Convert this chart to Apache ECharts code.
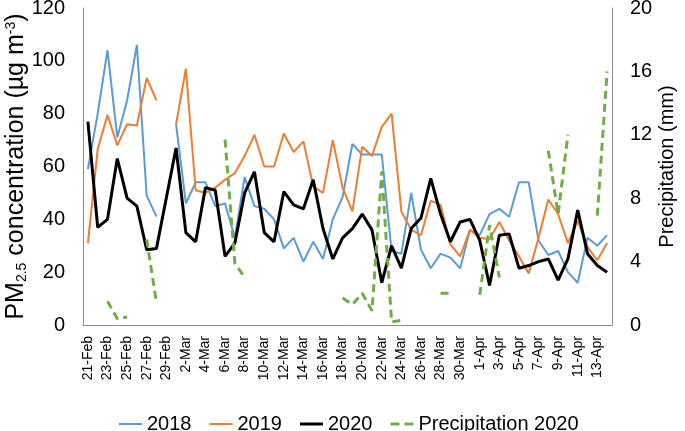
<!DOCTYPE html>
<html><head><meta charset="utf-8">
<script src="https://cdn.jsdelivr.net/npm/echarts@6/dist/echarts.min.js"></script>
<style>html,body{margin:0;padding:0;background:#fff}#c{width:685px;height:431px}</style>
</head><body><div id="c"></div>
<script>
const dates = ["21-Feb","22-Feb","23-Feb","24-Feb","25-Feb","26-Feb","27-Feb","28-Feb","29-Feb",
"1-Mar","2-Mar","3-Mar","4-Mar","5-Mar","6-Mar","7-Mar","8-Mar","9-Mar","10-Mar","11-Mar","12-Mar","13-Mar","14-Mar","15-Mar","16-Mar","17-Mar","18-Mar","19-Mar","20-Mar","21-Mar","22-Mar","23-Mar","24-Mar","25-Mar","26-Mar","27-Mar","28-Mar","29-Mar","30-Mar","31-Mar",
"1-Apr","2-Apr","3-Apr","4-Apr","5-Apr","6-Apr","7-Apr","8-Apr","9-Apr","10-Apr","11-Apr","12-Apr","13-Apr","14-Apr"];
const pm2018 = [59,80,104,71,85,106,49,41,null,
76,46,54,54,45,46,33,56,45,44,40,29,33,24,31.5,25,40,48.5,68.5,64.5,64.5,64.5,28,27,50,28.5,21.5,27,25.5,21.5,36,
34,42,44,41,54,54,32,26.5,28,20,16,33,30,34];
const pm2019 = [31,66.5,79.5,68,76,75.5,93.5,85,null,
76,97,51,50,52,55,57.5,64,72,60,60,72.5,65.5,69.5,52.5,50,70,52,43,67.5,64,75,80,43,36,34,47,45.5,30.5,26,36,
33,32.5,39,32,26,19.5,33,47.5,42,31,39.5,29.5,24.5,31];
const pm2020 = [77,37,40,63,48,45,28.5,29,48,
67,35,31.5,52,51,26,31,50,58,35,31.5,50.5,45.5,44,55,36.5,25,33,36.5,42,36,16,30,21.5,36.5,40.5,55.5,42,31.5,39,40,
32,15,34,34.5,21.5,22.5,24,25,17,25,43.5,27,22.5,20];
const precip2020 = [null,null,1.5,0.4,0.5,null,5.4,1.4,null,
null,null,null,null,null,11.7,3.9,3.0,null,null,null,null,null,null,null,null,null,1.7,1.3,2.0,0.9,9.7,0.2,0.3,null,null,null,2.0,2.0,null,null,
1.9,6.3,3.0,null,null,null,null,11.0,7.0,12.0,null,null,6.9,16.0];
const leftTicks = {min:0, max:120, step:20};
const rightTicks = {min:0, max:20, step:4};

const FONT = '"Liberation Sans", Arial, sans-serif';
const chart = echarts.init(document.getElementById('c'), null, {renderer:'canvas'});
const axisLineStyle = {show:true, lineStyle:{color:'#8c8c8c', width:1}};
const solidThin = 'path://M0,0.5H23V2.5H0Z';
const solidThick = 'path://M0,0H23V3H0Z';
const dashedIcon = 'path://M0,0H9V3H0Z M14,0H23V3H14Z';
chart.setOption({
  animation:false,
  textStyle:{fontFamily:FONT},
  grid:{left:83, right:73, top:8, bottom:106, containLabel:false, outerBoundsMode:'none'},
  legend:{
    top:409, left:114, itemWidth:23, itemHeight:3, itemGap:18,
    textStyle:{fontFamily:FONT, fontSize:20, color:'#000'},
    data:[
      {name:'2018', icon:solidThin},
      {name:'2019', icon:solidThin},
      {name:'2020', icon:solidThick},
      {name:'Precipitation 2020', icon:dashedIcon}
    ]
  },
  xAxis:{
    type:'category', data:dates, boundaryGap:true,
    axisLine:axisLineStyle, axisTick:{show:false},
    axisLabel:{interval:1, rotate:90, fontSize:14, color:'#000', margin:11, fontFamily:FONT}
  },
  yAxis:[{
    type:'value', min:leftTicks.min, max:leftTicks.max, interval:leftTicks.step,
    axisLine:axisLineStyle, axisTick:{show:false}, splitLine:{show:false},
    axisLabel:{fontSize:20, color:'#000', margin:18, fontFamily:FONT},
    name:'{n|PM}{s|2.5}{n| concentration (µg m}{p|-3}{n|)}',
    nameLocation:'middle', nameGap:54, nameRotate:90, nameMoveOverlap:false,
    nameTextStyle:{rich:{
      n:{fontSize:25, color:'#000', fontFamily:FONT},
      s:{fontSize:14, color:'#000', fontFamily:FONT, verticalAlign:'bottom', padding:[9,0,0,0]},
      p:{fontSize:14, color:'#000', fontFamily:FONT, verticalAlign:'top', padding:[0,0,9,0]}
    }}
  },{
    type:'value', min:rightTicks.min, max:rightTicks.max, interval:rightTicks.step, position:'right',
    axisLine:axisLineStyle, axisTick:{show:false}, splitLine:{show:false},
    axisLabel:{fontSize:20, color:'#000', margin:18, fontFamily:FONT},
    name:'Precipitation (mm)', nameLocation:'middle', nameGap:45, nameRotate:90, nameMoveOverlap:false,
    nameTextStyle:{fontSize:20, color:'#000', fontFamily:FONT}
  }],
  series:[
    {name:'2018', type:'line', data:pm2018, symbol:'none', connectNulls:false,
     lineStyle:{color:'#5B9BD5', width:2}, itemStyle:{color:'#5B9BD5'}},
    {name:'2019', type:'line', data:pm2019, symbol:'none', connectNulls:false,
     lineStyle:{color:'#ED7D31', width:2}, itemStyle:{color:'#ED7D31'}},
    {name:'2020', type:'line', data:pm2020, symbol:'none', connectNulls:false,
     lineStyle:{color:'#000000', width:3}, itemStyle:{color:'#000000'}},
    {name:'Precipitation 2020', type:'line', yAxisIndex:1, data:precip2020, symbol:'none', connectNulls:false,
     lineStyle:{color:'#70AD47', width:3, type:[8,5]}, itemStyle:{color:'#70AD47'}}
  ]
});
</script></body></html>
